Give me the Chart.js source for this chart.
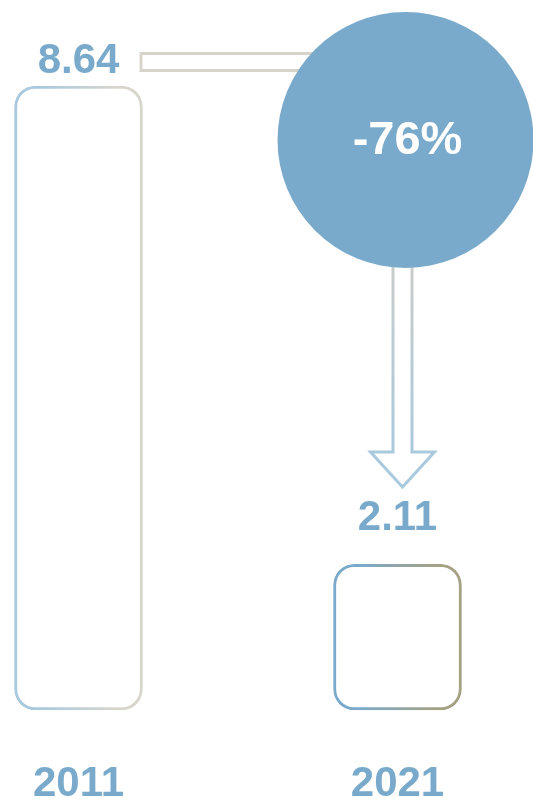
<!DOCTYPE html>
<html>
<head>
<meta charset="utf-8">
<script src="https://cdn.jsdelivr.net/npm/chart.js@4"></script>
<style>
  html, body { margin: 0; padding: 0; background: #fff; }
  #wrap { width: 533px; height: 802px; position: relative; }
</style>
</head>
<body>
<div id="wrap"><canvas id="chart"></canvas></div>
<script>
const years = ["2011", "2021"];
const values = [8.64, 2.11];
const changeLabel = "-76%";

const blue = "#7aaacb";
const font = "'Liberation Sans', Arial, sans-serif";
const barW = 128;
const axisMin = 0.12;

// horizontal gradient per bar, left colour -> right colour
const barEnds = [["#a9c9de", "#d8d6cc"], ["#7aaacb", "#a5a184"]];

function barBorder(ctx) {
  const chart = ctx.chart;
  const ends = barEnds[ctx.dataIndex];
  if (!chart.chartArea || !chart.scales.x) return ends[0];
  const x = chart.scales.x.getPixelForValue(ctx.dataIndex);
  const g = chart.ctx.createLinearGradient(x - barW / 2, 0, x + barW / 2, 0);
  g.addColorStop(0.2, ends[0]);
  g.addColorStop(0.8, ends[1]);
  return g;
}

// value labels above bars, circle with change, connector and arrow
const decor = {
  id: "decor",
  afterDatasetsDraw(chart) {
    const c = chart.ctx;
    const bars = chart.getDatasetMeta(0).data;
    const b1 = bars[0], b2 = bars[1];
    const cx = b2.x + 8, cy = 140, r = 128;

    c.save();
    // connector from first label to the circle
    c.lineWidth = 3;
    c.strokeStyle = "#d7d5cb";
    c.beginPath();
    c.roundRect(b1.x + b1.width / 2 - 1.5, 53.5, cx - r - (b1.x + b1.width / 2) + 45, 17, [0, 10, 10, 0]);
    c.stroke();

    // down arrow from circle to second label
    const ax = cx - 3, sw = 9.5, hw = 32, shaftEnd = 452, tip = 487;
    const g = c.createLinearGradient(0, cy + r, 0, shaftEnd);
    g.addColorStop(0, "#c9cdcb");
    g.addColorStop(1, "#a9c9de");
    c.strokeStyle = g;
    c.lineJoin = "miter";
    c.beginPath();
    c.moveTo(ax - sw, cy + r - 10);
    c.lineTo(ax - sw, shaftEnd);
    c.lineTo(ax - hw, shaftEnd);
    c.lineTo(ax, tip);
    c.lineTo(ax + hw, shaftEnd);
    c.lineTo(ax + sw, shaftEnd);
    c.lineTo(ax + sw, cy + r - 10);
    c.stroke();

    // circle
    c.fillStyle = blue;
    c.beginPath();
    c.arc(cx, cy, r, 0, Math.PI * 2);
    c.fill();

    c.fillStyle = "#fff";
    c.font = "bold 47px " + font;
    c.textAlign = "center";
    c.textBaseline = "alphabetic";
    c.fillText(changeLabel, cx + 2, 154);

    // value labels
    const gaps = [13, 34];
    c.fillStyle = blue;
    c.font = "bold 42px " + font;
    bars.forEach((bar, i) => {
      c.fillText(values[i].toFixed(2), bar.x, bar.y - gaps[i]);
    });
    c.restore();
  }
};

new Chart(document.getElementById("chart"), {
  type: "bar",
  data: {
    labels: years,
    datasets: [{
      data: values,
      base: axisMin,
      backgroundColor: "#fff",
      borderColor: barBorder,
      borderWidth: 3,
      borderRadius: 21,
      borderSkipped: false,
      barThickness: barW,
      clip: false
    }]
  },
  options: {
    responsive: true,
    maintainAspectRatio: false,
    animation: false,
    events: [],
    layout: { padding: { left: 78.5, right: 135.5, top: 86, bottom: 0 } },
    plugins: { legend: { display: false }, tooltip: { enabled: false } },
    scales: {
      x: {
        offset: false,
        border: { display: false },
        grid: { display: false, drawTicks: false },
        ticks: {
          color: blue,
          padding: 53,
          maxRotation: 0,
          font: { family: font, size: 42, weight: "bold", lineHeight: 1 }
        },
        afterFit(scale) {
          scale.height = 92;
          scale.paddingLeft = 0;
          scale.paddingRight = 0;
        }
      },
      y: { display: false, min: axisMin, max: 8.64 }
    }
  },
  plugins: [decor]
});
</script>
</body>
</html>
